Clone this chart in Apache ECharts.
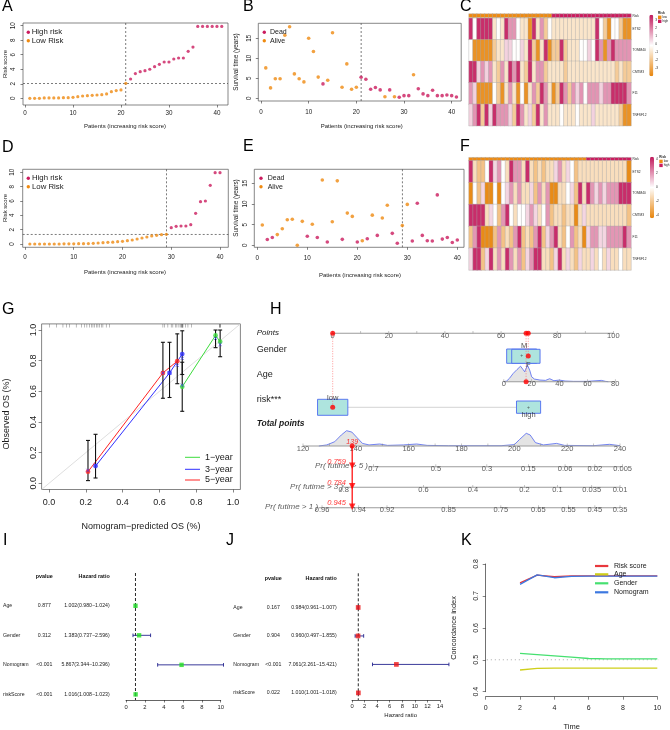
<!DOCTYPE html>
<html>
<head>
<meta charset="utf-8">
<title>Risk model figure</title>
<script src="https://cdn.jsdelivr.net/npm/echarts@6.0.0/dist/echarts.min.js"></script>
<style>
  html, body { margin: 0; padding: 0; background: #fff; }
  #chart { width: 670px; height: 730px; }
</style>
</head>
<body>
<div id="chart"></div>
<script>
/* Multi-panel risk model figure (ECharts). */
(function () {
  "use strict";

  // ---------- A / D: risk score of patients, sorted ----------
  const trainRiskScore = [0, 0, 0, 0.05, 0.05, 0.05, 0.05, 0.09, 0.09, 0.14, 0.23, 0.32, 0.37, 0.41, 0.46, 0.5, 0.6, 0.92, 1.06, 1.15, 2.06,
    2.66, 3.4, 3.67, 3.8, 4.0, 4.36, 4.68, 5.0, 5.0, 5.41, 5.55, 5.55, 6.47, 7.06, 9.9, 9.9, 9.9, 9.9, 9.9, 9.9];
  const trainCutoff = 2.06;
  const testRiskScore = [0, 0, 0, 0, 0, 0, 0, 0.02, 0.02, 0.03, 0.05, 0.05, 0.06, 0.09, 0.14, 0.19, 0.23, 0.25, 0.33, 0.37,
    0.47, 0.56, 0.7, 0.84, 0.98, 1.12, 1.21, 1.3, 1.35, 2.28, 2.47, 2.51, 2.51, 2.7, 4.28, 5.9, 6.0, 8.19, 9.95, 9.95];
  const testCutoff = 1.35;
  const patientTicks = [0, 10, 20, 30, 40];
  const riskTicks = [0, 2, 4, 6, 8, 10];

  // ---------- B / E: survival status ----------
  const trainPatient = [1, 2, 3, 4, 5, 6, 7, 8, 9, 10, 11, 12, 13, 14, 15, 17, 18, 19, 20, 21, 22, 23, 24, 25, 26, 27, 28, 29, 30, 31, 32, 33, 34, 35, 36, 37, 38, 39, 40, 41];
  const trainSurvTime = [7.6, 2.6, 4.9, 4.9, 15.75, 17.9, 6.1, 4.9, 4.1, 15.0, 11.7, 5.3, 3.6, 4.5, 16.4, 2.75, 8.6, 2.25, 2.75, 5.25, 4.75, 2.25, 2.7, 2.1, 0.4, 2.1, 0.4, 0.25, 0.67, 0.67, 5.9, 2.4, 1.1, 0.67, 2.0, 0.67, 0.67, 0.83, 0.67, 0.33];
  const trainDead = [0, 0, 0, 0, 0, 0, 0, 0, 0, 0, 0, 0, 1, 0, 0, 0, 0, 0, 0, 1, 1, 1, 1, 1, 0, 1, 0, 1, 1, 1, 0, 1, 1, 1, 1, 1, 1, 1, 1, 1];
  const testPatient = [1, 2, 3, 4, 5, 6, 7, 8, 9, 10, 11, 12, 13, 14, 15, 16, 17, 18, 19, 20, 21, 22, 23, 24, 25, 26, 27, 28, 29, 30, 31, 32, 33, 34, 35, 36, 37, 38, 39, 40];
  const testSurvTime = [4.9, 1.4, 1.9, 2.6, 4.0, 6.2, 6.3, 0, 5.8, 2.2, 5.1, 1.9, 15.8, 0.8, 5.7, 15.6, 1.45, 7.8, 7.0, 0.8, 1.1, 1.6, 7.3, 2.4, 6.6, 9.7, 2.9, 0.5, 4.8, 9.9, 1.05, 10.2, 2.4, 1.1, 1.05, 12.2, 1.5, 1.9, 0.7, 1.3];
  const testDead = [0, 1, 1, 0, 0, 0, 0, 0, 0, 1, 0, 1, 0, 1, 0, 0, 1, 0, 0, 1, 0, 1, 0, 1, 0, 0, 1, 1, 0, 0, 1, 1, 1, 1, 1, 1, 1, 1, 1, 1];
  const survTicks = [0, 5, 10, 15];

  // ---------- C / F: expression heatmaps ----------
  const heatGenes = ["ETS2", "TOMM40", "CMTM3", "F11", "TNFSF12"];
  const cETS2 = [3.3, -0.2, 3.3, 3.3, 3.3, 3.3, -1, -0.2, -1, 3.3, 1.6, 1.6, -0.2, -1, -1, -3.6, 3.3, -1, 1.6, -1.8, -0.2,
    -1, -1, -1, -1, -1, -1, -1, -1, -1, -1, -1, 3.3, -0.2, -1.8, -3.6, -0.2, -0.2, -1.8, -3.6, -3.6];
  const cTOMM40 = [-0.2, -3.6, -3.6, -3.6, -3.6, -3.6, -1.8, -1, -1, 0.6, 0.6, -0.2, -0.2, 0.6, -1, 3.3, -1.8, -3.6, -1, 3.3, -3.6,
    -1.8, -1.8, 3.3, -1.8, -1, -1, -1, -0.2, -0.2, 0.6, -0.2, 3.3, 1.6, -3.6, 1.6, 3.3, 1.6, 1.6, 1.6, 1.6];
  const cCMTM3 = [3.3, 3.3, 0.6, 1.6, 0.6, 1.6, -1, -1.8, 1.6, -1, 3.3, 1.6, 3.3, -1, -1.8, 3.3, -1, 1.6, 1.6, -1.8, -1,
    -1, -1, -1, -1.8, -1, -1, -1, -1, -1, -1, -1, -1, -1, -1, -1, -1, -1.8, -1, -1.8, -1.8];
  const cF11 = [1.6, 0.6, -3.6, -3.6, -3.6, -3.6, -0.2, -1.8, -3.6, -1, 1.6, -1, -3.6, -0.2, -3.6, -1, 1.6, -1.8, 3.3, 1.6, -1,
    -3.6, -1.8, 3.3, 1.6, -1.8, 1.6, 0.6, 1.6, -0.2, 1.6, 1.6, 1.6, 0.6, 1.6, 1.6, 3.3, 3.3, 3.3, 3.3, 1.6];
  const cTNFSF12 = [0.6, 1.6, 3.3, -1.8, 3.3, 0.6, 3.3, 1.6, 1.6, 1.6, 0.6, -1.8, 3.3, 1.6, -1, 0.6, -1.8, 3.3, -1, 1.6, -1,
    -1, -1, -0.2, -1, -1, -1, -0.2, -1, -1, -1, 0.6, -1, -1, -1, -1, -1, -1, -1.8, -3.6, -3.6];
  const fETS2 = [4, -1.2, -2.2, -2.2, 0, 4, 0.8, 2, 0, -1.2, 4, 2, 2, -1.2, 4, -1.2, -2.2, -1.2, -2.2, -1.2, -1.2, 0.8, 2, -1.2, 0.8, 0, -2.2, -1.2, -1.2,
    -1.2, -1.2, -1.2, -1.2, -1.2, -1.2, -1.2, -1.2, -1.2, -1.2, -4.2];
  const fTOMM40 = [-4.2, 0, -2.2, 0.8, -4.2, -4.2, 0, -4.2, 0, 0.8, 2, -1.2, 2, -1.2, -1.2, 0.8, -2.2, 2, -1.2, 2, -4.2, -4.2, -1.2, -1.2, 0, 0.8, -2.2, 4, -1.2,
    4, 2, 0.8, 2, 0.8, 2, 2, 2, 4, 4, 4];
  const fCMTM3 = [4, 4, 4, 4, -1.2, 0.8, 0, -2.2, 2, 4, 0, -1.2, 0, 0, 0.8, 2, 0.8, -1.2, 0, 2, -2.2, -1.2, -1.2, -2.2, -1.2, -1.2, -4.2, -1.2, 0.8,
    -1.2, -1.2, -1.2, -1.2, -1.2, -1.2, -1.2, -1.2, -1.2, -1.2, -2.2];
  const fF11 = [-2.2, 2, 4, -4.2, -4.2, -4.2, -2.2, 2, -2.2, -1.2, -2.2, 2, 4, -2.2, -1.2, -2.2, 2, 4, -2.2, 0.8, 2, 4, -1.2, -2.2, 0, 2, -2.2, -1.2, -4.2,
    0.8, 2, 2, 0.8, 0.8, 2, 2, 2, 2, 4, 2];
  const fTNFSF12 = [0.8, 4, 4, -2.2, 0.8, 4, -1.2, 2, -1.2, 4, 2, -1.2, 2, -2.2, 0.8, 2, 4, 4, -1.2, -1.2, -2.2, 0.8, 4, -1.2, 0.8, -1.2, -2.2, 0.8, -1.2,
    -1.2, 0.8, -1.2, 0, -1.2, 0.8, -1.2, -1.2, 0, -1.2, -1.2];
  const cScaleTicks = [3, 2, 1, 0, -1, -2, -3];
  const fScaleTicks = [4, 2, 0, -2, -4];

  // ---------- G: calibration ----------
  const calTicks = [0, 0.2, 0.4, 0.6, 0.8, 1.0];
  const calLabels = ["1−year", "3−year", "5−year"];
  const cal1Pred = [0.724, 0.905, 0.93], cal1Obs = [0.63, 0.965, 0.924], cal1Lo = [0.47, 0.885, 0.826], cal1Hi = [0.79, 1.0, 1.0], cal1Corr = [0.64, 0.945, 0.906];
  const cal3Pred = [0.253, 0.655, 0.724], cal3Obs = [0.113, 0.72, 0.843], cal3Lo = [0.035, 0.56, 0.71], cal3Hi = [0.32, 0.92, 0.995], cal3Corr = [0.12, 0.72, 0.815];
  const cal5Pred = [0.212, 0.619, 0.697], cal5Obs = [0.076, 0.72, 0.797], cal5Lo = [0.018, 0.555, 0.65], cal5Hi = [0.28, 0.92, 0.975], cal5Corr = [0.085, 0.72, 0.77];
  const calRug = [0.004, 0.04, 0.076, 0.094, 0.112, 0.148, 0.176, 0.194, 0.206, 0.221, 0.23, 0.239, 0.248, 0.257, 0.266, 0.275, 0.284, 0.293, 0.311, 0.329,
    0.619, 0.628, 0.646, 0.664, 0.673, 0.686, 0.695, 0.706, 0.713, 0.72, 0.722, 0.724, 0.726, 0.728, 0.742, 0.755, 0.773, 0.926, 0.928, 0.93, 0.932];

  // ---------- H: nomogram ----------
  const nomoPointTicks = [0, 10, 20, 30, 40, 50, 60, 70, 80, 90, 100];
  const nomoPointLabels = [0, 20, 40, 60, 80, 100];
  const genderLevels = ["M", "F"], genderPts = [68.2, 69.7], genderBoxLo = [62.0, 63.8], genderBoxHi = [72.7, 73.9];
  const nomoAgeTicks = [0, 20, 40, 60, 80], nomoAgePts = [61.0, 70.9, 80.8, 90.8, 100.7];
  const ageDensAge = [0, 2, 4, 6.7, 9.5, 12, 13.8, 15, 17, 18.6, 20, 22, 26, 30, 33, 36, 40, 44, 50, 60, 70, 73, 75];
  const ageDensH = [0, 0.04, 0.2, 0.5, 0.74, 0.94, 0.74, 0.6, 1.0, 0.7, 0.3, 0.16, 0.1, 0.08, 0.18, 0.06, 0.1, 0.04, 0.02, 0.02, 0.08, 0.02, 0];
  const riskLevels = ["low", "high"], riskPts = [0, 69.8], riskBoxLo = [-5.4, 65.5], riskBoxHi = [5.4, 74.1];
  const totalTicks = [120, 130, 140, 150, 160, 170, 180, 190, 200, 210, 220, 230, 240];
  const totalLabels = [120, 140, 160, 180, 200, 220, 240];
  const totDensT = [126, 129, 132, 134.5, 136.5, 138.5, 140.5, 142.5, 145, 149, 152, 158, 163, 167, 175, 195, 200, 202, 204.5, 206, 208, 211, 216, 219, 230, 236, 240];
  const totDensH = [0, 0.07, 0.28, 0.72, 1.0, 0.91, 0.54, 0.17, 0.07, 0.13, 0.04, 0.07, 0.13, 0.04, 0.02, 0.02, 0.09, 0.43, 0.83, 0.72, 0.22, 0.07, 0.17, 0.04, 0.02, 0.11, 0.02];
  const pr5Total = [146.7, 170.3, 189.6, 205.3, 219.2, 230.5, 241.0], pr5Labels = ["0.7", "0.5", "0.3", "0.15", "0.06", "0.02", "0.005"], pr5Start = 144.8;
  const pr3Total = [135.4, 165.6, 184.3, 203.8, 216.3, 229.3, 240.0], pr3Labels = ["0.8", "0.6", "0.4", "0.2", "0.1", "0.035", "0.01"], pr3Start = 135.4;
  const pr1Total = [127.2, 141.1, 151.8, 175.1, 194.9, 209.1, 220.5, 230.5, 240.0], pr1Labels = ["0.96", "0.94", "0.92", "0.85", "0.75", "0.65", "0.55", "0.45", "0.35"], pr1Start = 125.9;
  const patientRisk = "low", patientGender = "F", patientAge = 16;
  const predictedProb = [0.759, 0.784, 0.945];

  // ---------- I / J: Cox regression ----------
  const forestVars = ["Age", "Gender", "Nomogram", "riskScore"];
  const uniP = ["0.877", "0.312", "<0.001", "<0.001"];
  const uniHR = [1.002, 1.383, 5.867, 1.016], uniLo = [0.980, 0.737, 3.344, 1.008], uniHi = [1.024, 2.596, 10.296, 1.023];
  const multiP = ["0.167", "0.904", "<0.001", "0.022"];
  const multiHR = [0.984, 0.960, 7.061, 1.010], multiLo = [0.961, 0.497, 3.261, 1.001], multiHi = [1.007, 1.855, 15.421, 1.018];

  // ---------- K: C-index over time ----------
  const cTime = [2, 3, 4, 5, 6, 7, 8, 9, 10];
  const cRisk = [0.741, 0.765, 0.760, 0.763, 0.763, 0.763, 0.763, 0.763, 0.763];
  const cAge = [0.468, 0.473, 0.474, 0.474, 0.474, 0.474, 0.474, 0.474, 0.474];
  const cGender = [0.520, 0.516, 0.512, 0.508, 0.504, 0.503, 0.503, 0.503, 0.503];
  const cNomo = [0.736, 0.766, 0.757, 0.761, 0.762, 0.762, 0.762, 0.762, 0.762];

  // ---------- helpers ----------
  const FONT = '"Liberation Sans", Arial, Helvetica, sans-serif';
  const RED = "#CB1B5E";
  const ORANGE = "#EF8A10";
  const HEAT = ["#E8850C", "#FFFFFF", "#C2185B"];

  const grids = [], xAxes = [], yAxes = [], series = [], visualMaps = [], graphics = [];
  function addGrid(g) { grids.push(Object.assign({ containLabel: false, show: false }, g)); return grids.length - 1; }
  function addX(a) { xAxes.push(a); return xAxes.length - 1; }
  function addY(a) { yAxes.push(a); return yAxes.length - 1; }
  function addS(s) { series.push(Object.assign({ animation: false, silent: true }, s)); return series.length - 1; }

  function txt(x, y, text, o) {
    o = o || {};
    return {
      type: "text", x: x, y: y, rotation: o.rot || 0, silent: true, z: 100,
      style: {
        text: text, fill: o.color || "#1a1a1a",
        font: (o.italic ? "italic " : "") + (o.bold ? "bold " : "") + (o.size || 7) + "px " + FONT,
        align: o.align || "left", verticalAlign: o.valign || "middle"
      }
    };
  }
  function hline(x1, x2, y, color, w) {
    return { type: "line", shape: { x1: x1, y1: y, x2: x2, y2: y }, style: { stroke: color, lineWidth: w }, silent: true, z: 100 };
  }

  function rAxis(grid, min, max, ticks, o) {
    const label = { customValues: ticks, fontSize: o.size, fontFamily: FONT, color: "#222", margin: o.margin, rotate: o.rotate || 0 };
    if (o.fmt) label.formatter = o.fmt;
    return {
      type: "value", gridIndex: grid, min: min, max: max,
      axisLine: { show: false, onZero: false },
      axisTick: { show: true, length: o.tick || 2.5, customValues: ticks, lineStyle: { color: "#333", width: 0.6 } },
      axisLabel: label,
      splitLine: { show: false }
    };
  }

  function legendDots(cx, ys, labels, colors, tx, size) {
    labels.forEach(function (l, i) {
      graphics.push({ type: "circle", shape: { cx: cx, cy: ys[i], r: 1.7 }, style: { fill: colors[i] }, silent: true, z: 100 });
      graphics.push(txt(tx, ys[i], l, { size: size }));
    });
  }

  function vErrorBars(xi, yi, xs, lo, hi, color, cap, width, z) {
    return addS({
      type: "custom", xAxisIndex: xi, yAxisIndex: yi, z: z, clip: false,
      data: xs.map(function (x, i) { return [x, lo[i], hi[i]]; }),
      encode: { x: 0, y: [1, 2] },
      renderItem: function (params, api) {
        const a = api.coord([api.value(0), api.value(1)]);
        const b = api.coord([api.value(0), api.value(2)]);
        const st = { stroke: color, lineWidth: width };
        return { type: "group", children: [
          { type: "line", shape: { x1: a[0], y1: a[1], x2: b[0], y2: b[1] }, style: st },
          { type: "line", shape: { x1: a[0] - cap, y1: a[1], x2: a[0] + cap, y2: a[1] }, style: st },
          { type: "line", shape: { x1: b[0] - cap, y1: b[1], x2: b[0] + cap, y2: b[1] }, style: st }
        ] };
      }
    });
  }

  function hErrorBars(xi, yi, rows, lo, hi, color, cap, width, z) {
    return addS({
      type: "custom", xAxisIndex: xi, yAxisIndex: yi, z: z, clip: false,
      data: rows.map(function (r, i) { return [r, lo[i], hi[i]]; }),
      encode: { y: 0, x: [1, 2] },
      renderItem: function (params, api) {
        const a = api.coord([api.value(1), api.value(0)]);
        const b = api.coord([api.value(2), api.value(0)]);
        const st = { stroke: color, lineWidth: width };
        return { type: "group", children: [
          { type: "line", shape: { x1: a[0], y1: a[1], x2: b[0], y2: b[1] }, style: st },
          { type: "line", shape: { x1: a[0], y1: a[1] - cap, x2: a[0], y2: a[1] + cap }, style: st },
          { type: "line", shape: { x1: b[0], y1: b[1] - cap, x2: b[0], y2: b[1] + cap }, style: st }
        ] };
      }
    });
  }

  // ---------- A / D ----------
  function riskScorePanel(p) {
    const g = addGrid({ left: p.left, top: p.top, width: p.width, height: p.height, show: true, borderColor: "#555", borderWidth: 0.7 });
    const xi = addX(rAxis(g, p.xMin, p.xMax, patientTicks, { size: 6.3, margin: p.xMargin }));
    const yi = addY(rAxis(g, p.yMin, p.yMax, riskTicks, { size: 6.3, margin: p.yMargin, rotate: 90 }));
    const low = [], high = [];
    p.score.forEach(function (s, i) { (s > p.cutoff ? high : low).push([i + 1, s]); });
    const dash = { color: "#444", width: 0.7, type: [2, 2] };
    addS({ type: "line", xAxisIndex: xi, yAxisIndex: yi, data: [[p.xMin, p.cutoff], [p.xMax, p.cutoff]], symbol: "none", lineStyle: dash, z: 1 });
    addS({ type: "line", xAxisIndex: xi, yAxisIndex: yi, data: [[low.length, p.yMin], [low.length, p.yMax]], symbol: "none", lineStyle: dash, z: 1 });
    addS({ type: "scatter", xAxisIndex: xi, yAxisIndex: yi, data: low, symbolSize: 3.2, itemStyle: { color: ORANGE }, z: 3 });
    addS({ type: "scatter", xAxisIndex: xi, yAxisIndex: yi, data: high, symbolSize: 3.2, itemStyle: { color: RED }, z: 3 });
    legendDots(p.legX, p.legY, ["High risk", "Low Risk"], [RED, ORANGE], p.legTextX, 7.8);
    graphics.push(txt(p.xTitle[0], p.xTitle[1], "Patients (increasing risk score)", { size: 6, align: "center" }));
    graphics.push(txt(p.yTitle[0], p.yTitle[1], "Risk score", { size: 6, align: "center", rot: Math.PI / 2 }));
  }

  // ---------- B / E ----------
  function survivalPanel(p) {
    const g = addGrid({ left: p.left, top: p.top, width: p.width, height: p.height, show: true, borderColor: "#555", borderWidth: 0.7 });
    const xi = addX(rAxis(g, p.xMin, p.xMax, patientTicks, { size: 6.3, margin: p.xMargin }));
    const yi = addY(rAxis(g, p.yMin, p.yMax, survTicks, { size: 6.3, margin: p.yMargin, rotate: 90 }));
    const alive = [], dead = [];
    p.patient.forEach(function (pt, i) { (p.dead[i] ? dead : alive).push([pt, p.time[i]]); });
    addS({ type: "line", xAxisIndex: xi, yAxisIndex: yi, data: [[p.cut, p.yMin], [p.cut, p.yMax]], symbol: "none", lineStyle: { color: "#444", width: 0.7, type: [2, 2] }, z: 1 });
    addS({ type: "scatter", xAxisIndex: xi, yAxisIndex: yi, data: dead, symbolSize: 3.6, itemStyle: { color: RED }, z: 3 });
    addS({ type: "scatter", xAxisIndex: xi, yAxisIndex: yi, data: alive, symbolSize: 3.6, itemStyle: { color: ORANGE }, z: 3 });
    legendDots(p.legX, p.legY, ["Dead", "Alive"], [RED, ORANGE], p.legTextX, 7);
    graphics.push(txt(p.xTitle[0], p.xTitle[1], "Patients (increasing risk score)", { size: 6, align: "center" }));
    graphics.push(txt(p.yTitle[0], p.yTitle[1], "Survival time (years)", { size: 6.3, align: "center", rot: Math.PI / 2 }));
  }

  // ---------- C / F ----------
  function heatPanel(p) {
    const cols = p.groups.map(function (_, i) { return String(i); });
    const geneLabel = { fontSize: 3.2, margin: 1.6, color: "#222", fontFamily: FONT };
    const ga = addGrid({ left: p.left, top: p.annTop, width: p.width, height: p.annH });
    const xa = addX({ type: "category", gridIndex: ga, data: cols, show: false });
    const ya = addY({ type: "category", gridIndex: ga, data: ["Risk"], position: "right", axisLine: { show: false }, axisTick: { show: false }, axisLabel: geneLabel });
    const sa = addS({ type: "heatmap", xAxisIndex: xa, yAxisIndex: ya, data: p.groups.map(function (gr, i) { return [i, 0, gr]; }), itemStyle: { borderColor: "#aaa", borderWidth: 0.4 } });
    visualMaps.push({ type: "piecewise", show: false, seriesIndex: sa, dimension: 2, pieces: [{ value: 0, color: ORANGE }, { value: 1, color: RED }] });

    const gh = addGrid({ left: p.left, top: p.top, width: p.width, height: p.height });
    const xh = addX({ type: "category", gridIndex: gh, data: cols, show: false });
    const yh = addY({ type: "category", gridIndex: gh, data: heatGenes, inverse: true, position: "right", axisLine: { show: false }, axisTick: { show: false }, axisLabel: geneLabel });
    const cells = [];
    p.rows.forEach(function (row, r) { row.forEach(function (v, c) { cells.push([c, r, v]); }); });
    const sh = addS({ type: "heatmap", xAxisIndex: xh, yAxisIndex: yh, data: cells, itemStyle: { borderColor: "#aaa", borderWidth: 0.4 } });
    visualMaps.push({
      type: "continuous", seriesIndex: sh, dimension: 2, min: p.min, max: p.max, calculable: false, hoverLink: false,
      orient: "vertical", left: p.barLeft, top: p.barTop, itemWidth: p.barW, itemHeight: p.barH, padding: 0,
      inRange: { color: HEAT }
    });
    p.ticks.forEach(function (t) {
      graphics.push(txt(p.tickX, p.barTop + (p.max - t) / (p.max - p.min) * p.barH, String(t), { size: 3.2 }));
    });
    graphics.push(txt(p.legX, p.legY, "Risk", { size: 3.2, bold: true }));
    [ORANGE, RED].forEach(function (c, i) {
      graphics.push({ type: "rect", shape: { x: p.legX, y: p.legY + 2.4 + i * 4, width: 3.4, height: 3.4 }, style: { fill: c }, silent: true, z: 100 });
      graphics.push(txt(p.legX + 4.4, p.legY + 4.1 + i * 4, i ? "high" : "low", { size: 3 }));
    });
  }

  // ---------- panels A-F ----------
  riskScorePanel({ score: trainRiskScore, cutoff: trainCutoff, left: 23, top: 23, width: 205, height: 82, xMin: -0.42, xMax: 42.3, yMin: -0.92, yMax: 10.37,
    xMargin: 5, yMargin: 7, legX: 28.3, legY: [32.3, 40.7], legTextX: 31.7, xTitle: [125, 126], yTitle: [5, 64] });
  riskScorePanel({ score: testRiskScore, cutoff: testCutoff, left: 22.7, top: 169.3, width: 205.6, height: 78, xMin: -0.47, xMax: 41.7, yMin: -0.46, yMax: 10.42,
    xMargin: 6.5, yMargin: 7.5, legX: 28.3, legY: [178.3, 186.7], legTextX: 32, xTitle: [125, 272.7], yTitle: [5, 208] });
  survivalPanel({ patient: trainPatient, time: trainSurvTime, dead: trainDead, cut: 21, left: 258.3, top: 23.3, width: 202.9, height: 77.7,
    xMin: -0.57, xMax: 42, yMin: -0.67, yMax: 18.75, xMargin: 8, yMargin: 6, legX: 264.3, legY: [32.3, 40.7], legTextX: 270, xTitle: [361.7, 126.7], yTitle: [236.7, 62] });
  survivalPanel({ patient: testPatient, time: testSurvTime, dead: testDead, cut: 29, left: 254.3, top: 169.3, width: 209.7, height: 78,
    xMin: -0.6, xMax: 41.34, yMin: -0.48, yMax: 18.4, xMargin: 7.5, yMargin: 6, legX: 261, legY: [178.3, 186.7], legTextX: 267.7, xTitle: [360, 275], yTitle: [236.7, 208] });
  heatPanel({ groups: trainRiskScore.map(function (s) { return s > trainCutoff ? 1 : 0; }), rows: [cETS2, cTOMM40, cCMTM3, cF11, cTNFSF12],
    left: 469, width: 162, annTop: 14, annH: 3.3, top: 18.3, height: 107.4, min: -4, max: 3.66, ticks: cScaleTicks,
    barLeft: 649.3, barTop: 14.7, barW: 4, barH: 61.6, tickX: 655.3, legX: 658, legY: 13.2 });
  heatPanel({ groups: testRiskScore.map(function (s) { return s > testCutoff ? 1 : 0; }), rows: [fETS2, fTOMM40, fCMTM3, fF11, fTNFSF12],
    left: 469, width: 162, annTop: 157.7, annH: 3, top: 160.7, height: 109.3, min: -4.4, max: 4.4, ticks: fScaleTicks,
    barLeft: 650, barTop: 156.7, barW: 4, barH: 61.6, tickX: 656, legX: 659.3, legY: 157.3 });

  // ---------- G ----------
  (function calibrationPanel() {
    const g = addGrid({ left: 41.6, top: 323.9, width: 198.8, height: 165.6, show: true, borderColor: "#666", borderWidth: 0.8 });
    const fmt = function (v) { return v.toFixed(1); };
    const xi = addX(rAxis(g, -0.04, 1.04, calTicks, { size: 9, margin: 9, fmt: fmt, tick: 3 }));
    const yi = addY(rAxis(g, -0.04, 1.04, calTicks, { size: 9, margin: 4, fmt: fmt, rotate: 90, tick: 3 }));
    addS({ type: "line", xAxisIndex: xi, yAxisIndex: yi, data: [[-0.04, -0.04], [1.04, 1.04]], symbol: "none", lineStyle: { color: "#dadada", width: 0.9 }, z: 1 });
    addS({ type: "scatter", xAxisIndex: xi, yAxisIndex: yi, data: calRug.map(function (v) { return [v, 1.028]; }), symbol: "rect", symbolSize: [0.5, 3.7], itemStyle: { color: "#555" }, z: 2 });
    const groups = [
      { color: "#3CDC3C", pred: cal1Pred, obs: cal1Obs, lo: cal1Lo, hi: cal1Hi, corr: cal1Corr },
      { color: "#2F2FFF", pred: cal3Pred, obs: cal3Obs, lo: cal3Lo, hi: cal3Hi, corr: cal3Corr },
      { color: "#FF2323", pred: cal5Pred, obs: cal5Obs, lo: cal5Lo, hi: cal5Hi, corr: cal5Corr }
    ];
    groups.forEach(function (c) {
      const pts = c.pred.map(function (x, i) { return [x, c.obs[i]]; });
      addS({ type: "line", xAxisIndex: xi, yAxisIndex: yi, data: pts, symbol: "none", lineStyle: { color: c.color, width: 1 }, z: 2 });
      vErrorBars(xi, yi, c.pred, c.lo, c.hi, "#111", 2, 1.1, 3);
      addS({ type: "scatter", xAxisIndex: xi, yAxisIndex: yi, data: pts, symbolSize: 4.8, itemStyle: { color: c.color }, z: 4 });
      addS({ type: "scatter", xAxisIndex: xi, yAxisIndex: yi, data: c.pred.map(function (x, i) { return [x, c.corr[i]]; }),
        symbol: "path://M0,0L10,10M10,0L0,10", symbolSize: 3.2, itemStyle: { color: "transparent", borderColor: "#3a3aff", borderWidth: 0.8 }, z: 5 });
    });
    calLabels.forEach(function (l, i) {
      graphics.push(hline(185, 200, [457.3, 469.3, 480][i], groups[i].color, 1));
      graphics.push(txt(205, [457.3, 469.3, 480][i], l, { size: 9 }));
    });
    graphics.push(txt(141, 526.7, "Nomogram−predicted OS (%)", { size: 9, align: "center" }));
    graphics.push(txt(7, 414, "Observed OS (%)", { size: 9, align: "center", rot: Math.PI / 2 }));
  })();

  // ---------- H ----------
  (function nomogramPanel() {
    const g = addGrid({ left: 303, top: 325, width: 317, height: 190 });
    const xT = addX({ type: "value", gridIndex: g, min: 120, max: 240, show: false });
    const xP = addX({ type: "value", gridIndex: g, min: -10.58, max: 102.39, show: false });
    const yi = addY({ type: "value", gridIndex: g, min: 325, max: 515, inverse: true, show: false });
    const row = { points: 333.3, gender: 356, age: 381.7, risk: 407.3, total: 446, pr5: 466.7, pr3: 487.3, pr1: 507.7 };
    const labelFont = { fontSize: 7.5, fontFamily: FONT, color: "#333" };

    function ageToPts(a) {
      for (let i = 1; i < nomoAgeTicks.length; i++) {
        if (a <= nomoAgeTicks[i] || i === nomoAgeTicks.length - 1) {
          const f = (a - nomoAgeTicks[i - 1]) / (nomoAgeTicks[i] - nomoAgeTicks[i - 1]);
          return nomoAgePts[i - 1] + f * (nomoAgePts[i] - nomoAgePts[i - 1]);
        }
      }
      return nomoAgePts[0];
    }

    function scale(xi, y, from, to, ticks, labelAt, labels) {
      addS({ type: "line", xAxisIndex: xi, yAxisIndex: yi, data: [[from, y], [to, y]], symbol: "none", clip: false, lineStyle: { color: "#9b9b9b", width: 1.1 }, z: 2 });
      addS({ type: "scatter", xAxisIndex: xi, yAxisIndex: yi, data: ticks.map(function (v) { return [v, y]; }), symbol: "rect", symbolSize: [0.6, 2.4], symbolOffset: [0, -1.2], itemStyle: { color: "#888" }, clip: false, z: 2 });
      addS({ type: "scatter", xAxisIndex: xi, yAxisIndex: yi, clip: false, z: 3, symbolSize: 1, itemStyle: { color: "rgba(0,0,0,0)" },
        data: labelAt.map(function (v, i) { return { value: [v, y], name: String(labels[i]) }; }),
        label: Object.assign({ show: true, position: "inside", offset: [0, 2.6], formatter: "{b}" }, labelFont) });
    }

    function density(xi, y, xs, hs, px) {
      addS({ type: "custom", xAxisIndex: xi, yAxisIndex: yi, clip: false, z: 1, data: [[xs[0], y]],
        renderItem: function (params, api) {
          const top = xs.map(function (x, i) { return api.coord([x, y - hs[i] * px]); });
          const poly = [api.coord([xs[0], y])].concat(top, [api.coord([xs[xs.length - 1], y])]);
          return { type: "group", children: [
            { type: "polygon", shape: { points: poly }, style: { fill: "#e4e4e4" } },
            { type: "polyline", shape: { points: top }, style: { stroke: "#5066f0", lineWidth: 0.8, fill: null } }
          ] };
        } });
    }

    function boxes(lo, hi, yTop, yBot) {
      addS({ type: "custom", xAxisIndex: xP, yAxisIndex: yi, clip: false, z: 3,
        data: lo.map(function (l, i) { return [l, hi[i], yTop[i], yBot[i]]; }),
        encode: { x: [0, 1], y: [2, 3] },
        renderItem: function (params, api) {
          const a = api.coord([api.value(0), api.value(2)]);
          const b = api.coord([api.value(1), api.value(3)]);
          return { type: "rect", shape: { x: a[0], y: a[1], width: b[0] - a[0], height: b[1] - a[1] }, style: { fill: "#aee4de", stroke: "#4d6cf0", lineWidth: 0.9 } };
        } });
    }

    function levelLabels(pts, y, names, offsets) {
      addS({ type: "scatter", xAxisIndex: xP, yAxisIndex: yi, clip: false, z: 6, symbolSize: 1, itemStyle: { color: "rgba(0,0,0,0)" },
        data: pts.map(function (p, i) {
          return { value: [p, y], name: names[i], label: { offset: [0, offsets[i]] } };
        }),
        label: Object.assign({ show: true, position: "inside", formatter: "{b}" }, labelFont, { fontSize: 7.5, color: "#222" }) });
    }

    // scales
    scale(xP, row.points, 0, 100, nomoPointTicks, nomoPointLabels, nomoPointLabels);
    density(xP, row.age, ageDensAge.map(ageToPts), ageDensH, 16.5);
    scale(xP, row.age, nomoAgePts[0], nomoAgePts[nomoAgePts.length - 1], nomoAgePts, nomoAgePts, nomoAgeTicks);
    density(xT, row.total, totDensT, totDensH, 15.3);
    scale(xT, row.total, 120, 240, totalTicks, totalLabels, totalLabels);
    scale(xT, row.pr5, pr5Start, pr5Total[pr5Total.length - 1], pr5Total, pr5Total, pr5Labels);
    scale(xT, row.pr3, pr3Start, pr3Total[pr3Total.length - 1], pr3Total, pr3Total, pr3Labels);
    scale(xT, row.pr1, pr1Start, pr1Total[pr1Total.length - 1], pr1Total, pr1Total, pr1Labels);

    // categorical variables
    addS({ type: "line", xAxisIndex: xP, yAxisIndex: yi, data: [[riskBoxHi[0], row.risk], [riskBoxLo[1], row.risk]], symbol: "none", clip: false, lineStyle: { color: "#c8c8c8", width: 0.8 }, z: 2 });
    boxes(genderBoxLo, genderBoxHi, [349, 349.3], [363.3, 363.3]);
    boxes(riskBoxLo, riskBoxHi, [399.3, 401], [415.3, 413.3]);
    levelLabels(genderPts, row.gender, genderLevels, [-10, 8.7]);
    levelLabels(riskPts, row.risk, riskLevels, [-9.6, 7.7]);
    addS({ type: "scatter", xAxisIndex: xP, yAxisIndex: yi, clip: false, z: 5, symbolSize: 1, itemStyle: { color: "rgba(0,0,0,0)" },
      data: [[(genderBoxLo[0] + genderBoxHi[0]) / 2, row.gender], [(riskBoxLo[1] + riskBoxHi[1]) / 2, row.risk]],
      label: { show: true, position: "inside", formatter: "+", fontSize: 5, color: "#333" } });

    // this patient
    const pGender = genderPts[genderLevels.indexOf(patientGender)];
    const pRisk = riskPts[riskLevels.indexOf(patientRisk)];
    const pAge = ageToPts(patientAge);
    const total = pGender + pRisk + pAge;
    const dotted = { color: "#ff6a6a", width: 0.7, type: [1, 1.5] };
    [[pRisk, row.risk], [pAge, row.age], [pGender, row.gender]].forEach(function (d) {
      addS({ type: "line", xAxisIndex: xP, yAxisIndex: yi, data: [[d[0], row.points], d], symbol: "none", clip: false, lineStyle: dotted, z: 4 });
    });
    addS({ type: "scatter", xAxisIndex: xP, yAxisIndex: yi, clip: false, z: 7, symbolSize: 5, itemStyle: { color: "#ff0000" },
      data: [[pRisk, row.points], [pAge, row.points], [pGender, row.points], [pGender, row.gender], [pAge, row.age], [pRisk, row.risk]] });
    addS({ type: "line", xAxisIndex: xT, yAxisIndex: yi, data: [[total, row.total], [total, row.pr1 - 1]], symbol: "none", clip: false, lineStyle: { color: "#ff0000", width: 1.2 }, z: 6 });
    addS({ type: "scatter", xAxisIndex: xT, yAxisIndex: yi, clip: false, z: 7, symbolSize: 5, itemStyle: { color: "#ff0000" },
      data: [{ value: [total, row.total], name: String(Math.round(total)) }],
      label: { show: true, position: "inside", offset: [0, -4], formatter: "{b}", fontSize: 7, fontStyle: "italic", fontFamily: FONT, color: "#ff0000" } });
    addS({ type: "scatter", xAxisIndex: xT, yAxisIndex: yi, clip: false, z: 7, symbol: "triangle", symbolRotate: 180, symbolSize: 6.5, itemStyle: { color: "#ff0000" },
      data: [row.pr5, row.pr3, row.pr1].map(function (y, i) { return { value: [total, y - 1], name: predictedProb[i].toFixed(3) }; }),
      label: { show: true, position: "left", distance: 3, offset: [0, -3.4], formatter: "{b}", fontSize: 7.5, fontStyle: "italic", fontFamily: FONT, color: "#ff0000" } });

    // outcome titles
    addS({ type: "scatter", xAxisIndex: xT, yAxisIndex: yi, clip: false, z: 5, symbolSize: 1, itemStyle: { color: "rgba(0,0,0,0)" },
      data: [
        { value: [pr5Start, row.pr5], name: "Pr( futime > 5 )" },
        { value: [pr3Start, row.pr3], name: "Pr( futime > 3 )" },
        { value: [pr1Start, row.pr1], name: "Pr( futime > 1 )" }
      ],
      label: { show: true, position: "left", distance: 0, offset: [0, -1], formatter: "{b}", fontSize: 8, fontStyle: "italic", fontFamily: FONT, color: "#333" } });

    graphics.push(txt(256.7, 332.7, "Points", { size: 8, italic: true }));
    graphics.push(txt(256.7, 349.3, "Gender", { size: 9 }));
    graphics.push(txt(256.7, 375, "Age", { size: 9 }));
    graphics.push(txt(256.7, 400, "risk***", { size: 9 }));
    graphics.push(txt(256.7, 424, "Total points", { size: 8.5, italic: true, bold: true }));
  })();

  // ---------- I / J ----------
  function forestPanel(p) {
    const g = addGrid({ left: p.left, top: p.top, width: p.width, height: p.height });
    const xi = addX({
      type: "value", gridIndex: g, min: 0, max: p.xMax, interval: 2, position: "bottom",
      axisLine: { show: true, onZero: false, lineStyle: { color: "#222", width: 0.7 } },
      axisTick: { show: true, length: 2.5, lineStyle: { color: "#222", width: 0.6 } },
      axisLabel: { fontSize: 5.8, fontFamily: FONT, color: "#222", margin: p.xMargin },
      splitLine: { show: false }
    });
    const yi = addY({ type: "value", gridIndex: g, min: p.yMin, max: p.yMax, inverse: true, show: false });
    const rowVals = [0, 1, 2, 3, 4];
    function column(texts, header, margin, align) {
      addY({
        type: "value", gridIndex: g, min: p.yMin, max: p.yMax, inverse: true, position: "left",
        axisLine: { show: false, onZero: false }, axisTick: { show: false }, splitLine: { show: false },
        axisLabel: {
          customValues: rowVals, margin: margin, align: align, fontSize: 5.2, fontFamily: FONT, color: "#222",
          formatter: function (v) { const r = Math.round(v); return r === 0 ? (header ? "{h|" + header + "}" : "") : texts[r - 1]; },
          rich: { h: { fontWeight: "bold", fontSize: 5.4, fontFamily: FONT, color: "#111" } }
        }
      });
    }
    const hrText = p.hr.map(function (h, i) { return h.toFixed(3) + "(" + p.lo[i].toFixed(3) + "−" + p.hi[i].toFixed(3) + ")"; });
    column(forestVars, "", p.nameMargin, "left");
    column(p.pv, "pvalue", p.pMargin, "center");
    column(hrText, "Hazard ratio", p.hrMargin, "right");
    addS({ type: "line", xAxisIndex: xi, yAxisIndex: yi, data: [[1, p.yMin], [1, p.yMax]], symbol: "none", lineStyle: { color: "#111", width: 0.9, type: [3, 2] }, z: 1 });
    hErrorBars(xi, yi, [1, 2, 3, 4], p.lo, p.hi, "#24248E", 1.8, 0.9, 2);
    addS({ type: "scatter", xAxisIndex: xi, yAxisIndex: yi, clip: false, z: 3, symbol: "rect", symbolSize: p.sq, itemStyle: { color: p.color },
      data: p.hr.map(function (h, i) { return [h, i + 1]; }) });
  }
  forestPanel({ left: 124, top: 573, width: 96.7, height: 127, yMin: -0.11, yMax: 4.19, xMax: 10, xMargin: 4,
    hr: uniHR, lo: uniLo, hi: uniHi, pv: uniP, color: "#22E022", sq: 4.4, nameMargin: 123, pMargin: 81.7, hrMargin: 16.3 });
  forestPanel({ left: 352, top: 573.3, width: 88, height: 126.7, yMin: -0.2, yMax: 4.25, xMax: 14, xMargin: 3,
    hr: multiHR, lo: multiLo, hi: multiHi, pv: multiP, color: "#EE1515", sq: 4.7, nameMargin: 118.7, pMargin: 78.7, hrMargin: 15.3 });
  graphics.push(txt(400.7, 715.7, "Hazard ratio", { size: 6, align: "center" }));

  // ---------- K ----------
  (function cindexPanel() {
    const g = addGrid({ left: 485.7, top: 564, width: 171.6, height: 127.7 });
    const axisCommon = {
      axisLine: { show: true, onZero: false, lineStyle: { color: "#333", width: 0.7 } },
      axisTick: { show: true, length: 3, lineStyle: { color: "#333", width: 0.6 } },
      splitLine: { show: false }
    };
    const xi = addX(Object.assign({ type: "value", gridIndex: g, min: 0, max: 10, interval: 2, offset: 5,
      axisLabel: { fontSize: 7, fontFamily: FONT, color: "#222", margin: 8 } }, axisCommon));
    const yi = addY(Object.assign({ type: "value", gridIndex: g, min: 0.4, max: 0.8, interval: 0.1,
      axisLabel: { fontSize: 7, fontFamily: FONT, color: "#222", margin: 6, rotate: 90, formatter: function (v) { return v.toFixed(1); } } }, axisCommon));
    addS({ type: "line", xAxisIndex: xi, yAxisIndex: yi, data: [[-0.4, 0.5], [10.4, 0.5]], symbol: "none", clip: false, lineStyle: { color: "#aaa", width: 1, type: [1, 3] }, z: 1 });
    const lines = [
      { name: "Gender", data: cGender, color: "#46E070" },
      { name: "Age", data: cAge, color: "#CFCF1A" },
      { name: "Risk score", data: cRisk, color: "#E8383D" },
      { name: "Nomogram", data: cNomo, color: "#3C78E0" }
    ];
    lines.forEach(function (l) {
      addS({ type: "line", name: l.name, xAxisIndex: xi, yAxisIndex: yi, data: cTime.map(function (t, i) { return [t, l.data[i]]; }),
        symbol: "none", lineStyle: { color: l.color, width: 1.3 }, z: 2 });
    });
    const legendOrder = ["Risk score", "Age", "Gender", "Nomogram"];
    const legendY = [566, 574.3, 583.3, 592.3];
    legendOrder.forEach(function (name, i) {
      const l = lines.filter(function (d) { return d.name === name; })[0];
      graphics.push(hline(595, 608.3, legendY[i], l.color, 2.2));
      graphics.push(txt(614, legendY[i], name, { size: 7 }));
    });
    graphics.push(txt(571.7, 726.7, "Time", { size: 7.5, align: "center" }));
    graphics.push(txt(454, 628, "Concordance index", { size: 7.4, align: "center", rot: Math.PI / 2 }));
  })();

  // ---------- panel letters ----------
  [["A", 2, -1], ["B", 243, -1], ["C", 460, -1], ["D", 2, 140], ["E", 243, 139], ["F", 460, 139],
   ["G", 2, 302], ["H", 270, 302], ["I", 3, 533], ["J", 226, 533], ["K", 461, 533]].forEach(function (l) {
    graphics.push(txt(l[1], l[2], l[0], { size: 16, valign: "top", color: "#000" }));
  });

  const chart = echarts.init(document.getElementById("chart"));
  chart.setOption({
    animation: false,
    backgroundColor: "#fff",
    textStyle: { fontFamily: FONT },
    grid: grids,
    xAxis: xAxes,
    yAxis: yAxes,
    visualMap: visualMaps,
    series: series,
    graphic: { elements: graphics }
  });
})();
</script>
</body>
</html>
